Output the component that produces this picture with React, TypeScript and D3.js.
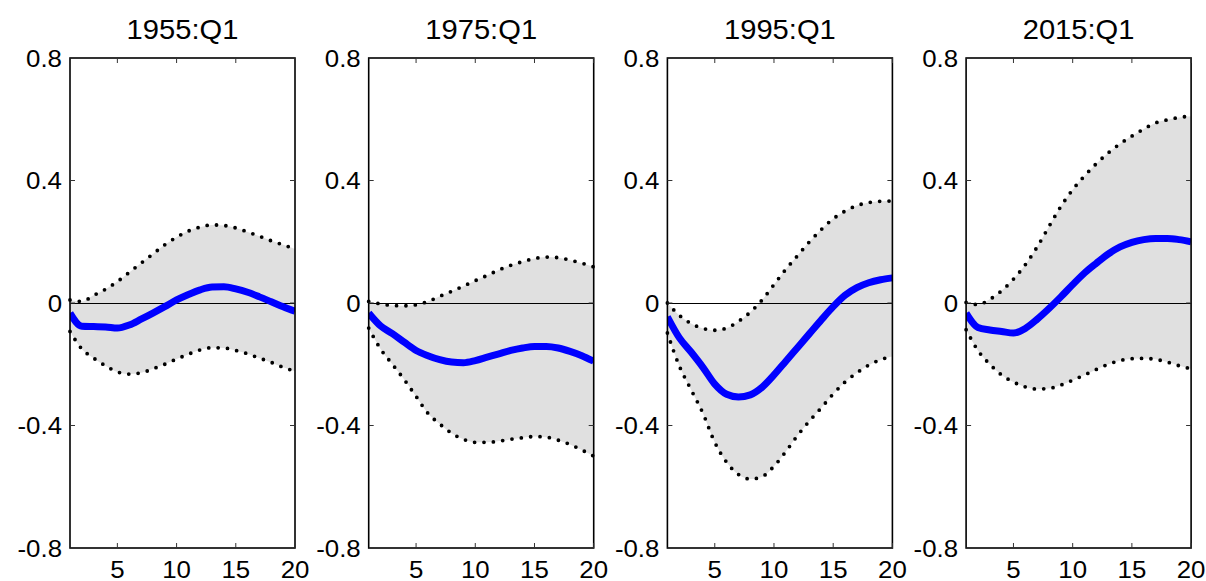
import { useEffect, useRef } from 'react';
import * as d3 from 'd3';

const horizons = [1, 2, 3, 4, 5, 6, 7, 8, 9, 10, 11, 12, 13, 14, 15, 16, 17, 18, 19, 20];

const panelTitles = ['1955:Q1', '1975:Q1', '1995:Q1', '2015:Q1'];

// median response
const median1955 = [-0.033, -0.076, -0.077, -0.078, -0.082, -0.072, -0.053, -0.033, -0.012, 0.01, 0.028, 0.043, 0.052, 0.053, 0.046, 0.035, 0.02, 0.004, -0.012, -0.027];
const median1975 = [-0.033, -0.075, -0.1, -0.128, -0.155, -0.172, -0.185, -0.193, -0.195, -0.188, -0.177, -0.166, -0.155, -0.147, -0.142, -0.142, -0.147, -0.158, -0.172, -0.19];
const median1995 = [-0.045, -0.113, -0.16, -0.21, -0.265, -0.298, -0.307, -0.3, -0.275, -0.235, -0.19, -0.145, -0.1, -0.055, -0.012, 0.025, 0.05, 0.066, 0.076, 0.082];
const median2015 = [-0.033, -0.08, -0.088, -0.093, -0.098, -0.083, -0.053, -0.018, 0.02, 0.06, 0.098, 0.13, 0.16, 0.183, 0.198, 0.207, 0.211, 0.211, 0.207, 0.2];

// upper band
const upper1955 = [0.01, 0.005, 0.025, 0.045, 0.07, 0.1, 0.13, 0.16, 0.19, 0.215, 0.235, 0.248, 0.255, 0.253, 0.245, 0.232, 0.218, 0.203, 0.19, 0.176];
const upper1975 = [0.005, -0.003, -0.008, -0.009, -0.006, 0.005, 0.022, 0.038, 0.055, 0.073, 0.09, 0.108, 0.123, 0.135, 0.145, 0.15, 0.148, 0.14, 0.13, 0.118];
const upper1995 = [0, -0.04, -0.067, -0.083, -0.089, -0.082, -0.06, -0.03, 0.01, 0.06, 0.11, 0.155, 0.2, 0.24, 0.275, 0.3, 0.318, 0.328, 0.332, 0.333];
const upper2015 = [0.002, -0.005, 0.012, 0.04, 0.078, 0.125, 0.183, 0.25, 0.315, 0.37, 0.415, 0.455, 0.49, 0.52, 0.545, 0.568, 0.588, 0.598, 0.606, 0.61];

// lower band
const lower1955 = [-0.093, -0.15, -0.18, -0.205, -0.225, -0.232, -0.228, -0.215, -0.2, -0.183, -0.167, -0.153, -0.146, -0.147, -0.155, -0.166, -0.18, -0.194, -0.21, -0.223];
const lower1975 = [-0.082, -0.15, -0.2, -0.25, -0.305, -0.36, -0.395, -0.425, -0.445, -0.455, -0.455, -0.451, -0.445, -0.44, -0.436, -0.438, -0.448, -0.462, -0.48, -0.5];
const lower1995 = [-0.098, -0.205, -0.283, -0.36, -0.455, -0.52, -0.56, -0.575, -0.567, -0.533, -0.485, -0.432, -0.385, -0.342, -0.297, -0.258, -0.228, -0.203, -0.185, -0.175];
const lower2015 = [-0.087, -0.155, -0.2, -0.235, -0.258, -0.274, -0.281, -0.279, -0.268, -0.252, -0.235, -0.217, -0.2, -0.188, -0.182, -0.181, -0.184, -0.193, -0.205, -0.215];

const yTicks = [0.8, 0.4, 0, -0.4, -0.8];
const yTickLabels = ['0.8', '0.4', '0', '-0.4', '-0.8'];
const xTicks = [5, 10, 15, 20];
const xTickLabels = ['5', '10', '15', '20'];

const panels = [
    { title: panelTitles[0], median: median1955, upper: upper1955, lower: lower1955 },
    { title: panelTitles[1], median: median1975, upper: upper1975, lower: lower1975 },
    { title: panelTitles[2], median: median1995, upper: upper1995, lower: lower1995 },
    { title: panelTitles[3], median: median2015, upper: upper2015, lower: lower2015 },
];

const W = 1206;
const H = 581;
const plotTop = 58;
const plotBottom = 548;
const plotWidth = 225;
const firstLeft = 70;
const panelStep = 298.7;
const font = '"Liberation Sans", Arial, Helvetica, sans-serif';

const App = () => {
    const ref = useRef<SVGSVGElement>(null);

    useEffect(() => {
        const svg = d3.select(ref.current);
        svg.selectAll('*').remove();

        const y = d3.scaleLinear().domain([-0.8, 0.8]).range([plotBottom, plotTop]);

        panels.forEach((p, i) => {
            const left = firstLeft + i * panelStep;
            const right = left + plotWidth;
            const x = d3.scaleLinear().domain([1, 20]).range([left, right]);

            const g = svg.append('g');

            const clipId = `clip-${i}`;
            g.append('clipPath').attr('id', clipId)
                .append('rect')
                .attr('x', left).attr('y', plotTop)
                .attr('width', plotWidth).attr('height', plotBottom - plotTop);

            // shaded band
            const area = d3.area<number>()
                .x((_, j) => x(horizons[j]))
                .y0((_, j) => y(p.lower[j]))
                .y1((_, j) => y(p.upper[j]))
                .curve(d3.curveMonotoneX);
            g.append('path')
                .attr('d', area(horizons))
                .attr('fill', '#e0e0e0');

            // zero line
            g.append('line')
                .attr('x1', left).attr('x2', right)
                .attr('y1', y(0) + 0.5).attr('y2', y(0) + 0.5)
                .attr('stroke', '#000').attr('stroke-width', 1.2);

            const line = (vals: number[]) => d3.line<number>()
                .x((_, j) => x(horizons[j]))
                .y((_, j) => y(vals[j]))
                .curve(d3.curveMonotoneX)(horizons);

            // band edges, dotted
            [p.upper, p.lower].forEach(vals => {
                g.append('path')
                    .attr('d', line(vals))
                    .attr('fill', 'none')
                    .attr('stroke', '#000')
                    .attr('stroke-width', 3.8)
                    .attr('stroke-linecap', 'round')
                    .attr('stroke-dasharray', '0 9.4');
            });

            // median
            g.append('path')
                .attr('d', line(p.median))
                .attr('fill', 'none')
                .attr('stroke', '#0000ff')
                .attr('stroke-width', 7)
                .attr('stroke-linejoin', 'round')
                .attr('clip-path', `url(#${clipId})`);

            // box
            g.append('rect')
                .attr('x', left).attr('y', plotTop)
                .attr('width', plotWidth).attr('height', plotBottom - plotTop)
                .attr('fill', 'none')
                .attr('stroke', '#000')
                .attr('stroke-width', 1.6);

            // y ticks, both sides, pointing in
            yTicks.forEach((t, k) => {
                g.append('line')
                    .attr('x1', left).attr('x2', left + 5)
                    .attr('y1', y(t)).attr('y2', y(t))
                    .attr('stroke', '#333').attr('stroke-width', 1);
                g.append('line')
                    .attr('x1', right - 5).attr('x2', right)
                    .attr('y1', y(t)).attr('y2', y(t))
                    .attr('stroke', '#333').attr('stroke-width', 1);
                g.append('text')
                    .attr('transform', `translate(${left - 8},${y(t) + 8.5}) scale(1.1,1)`)
                    .attr('text-anchor', 'end')
                    .attr('font-family', font)
                    .attr('font-size', 23.5)
                    .attr('fill', '#000')
                    .text(yTickLabels[k]);
            });

            // x ticks, top and bottom
            xTicks.forEach((t, k) => {
                g.append('line')
                    .attr('x1', x(t)).attr('x2', x(t))
                    .attr('y1', plotBottom).attr('y2', plotBottom - 5)
                    .attr('stroke', '#333').attr('stroke-width', 1);
                g.append('line')
                    .attr('x1', x(t)).attr('x2', x(t))
                    .attr('y1', plotTop).attr('y2', plotTop + 5)
                    .attr('stroke', '#333').attr('stroke-width', 1);
                g.append('text')
                    .attr('transform', `translate(${x(t)},${577.5}) scale(1.1,1)`)
                    .attr('text-anchor', 'middle')
                    .attr('font-family', font)
                    .attr('font-size', 23.5)
                    .attr('fill', '#000')
                    .text(xTickLabels[k]);
            });

            // title
            g.append('text')
                .attr('transform', `translate(${(left + right) / 2},${38.5}) scale(1.06,1)`)
                .attr('text-anchor', 'middle')
                .attr('font-family', font)
                .attr('font-size', 27.5)
                .attr('fill', '#000')
                .text(p.title);
        });
    }, []);

    return (
        <svg
            ref={ref}
            width={W}
            height={H}
            style={{ position: 'absolute', left: 0, top: 0, background: '#fff' }}
        />
    );
};

export default App;
